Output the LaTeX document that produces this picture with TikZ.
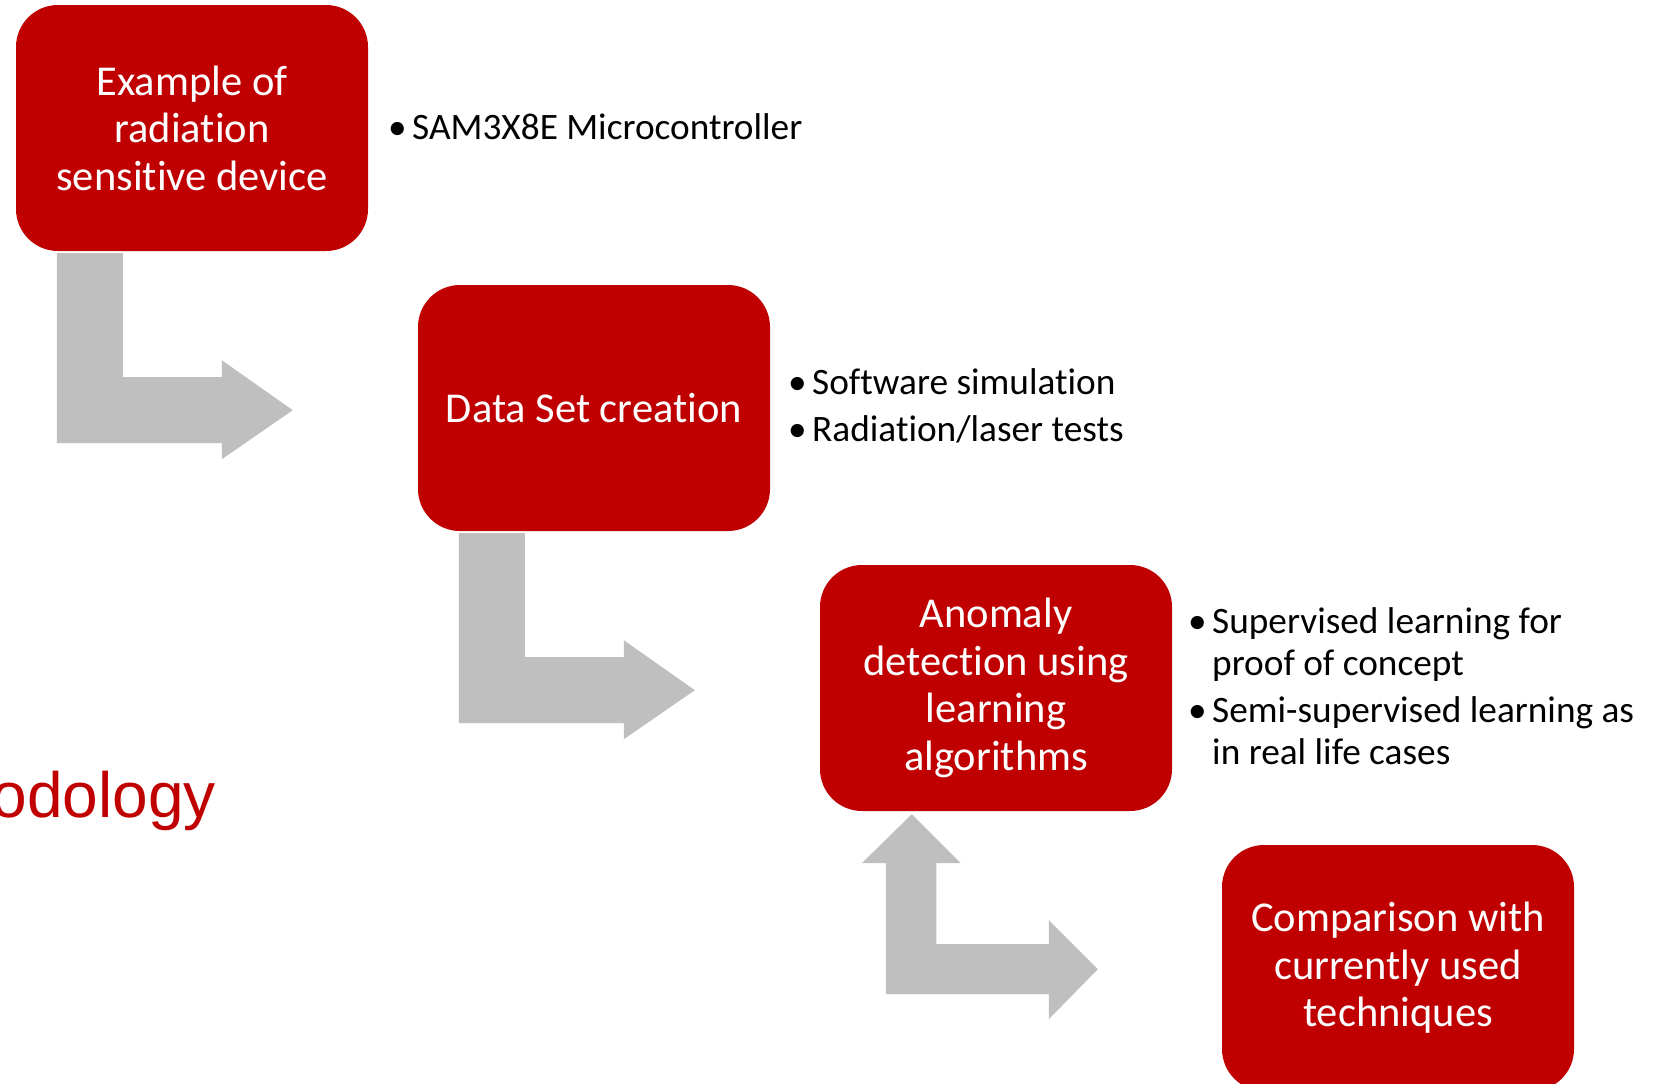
\documentclass[tikz,border=0pt]{standalone}
\usepackage{fontspec}
\setmainfont[Ligatures={NoCommon}]{Carlito}
\newfontfamily\arialfont{Liberation Sans}
\definecolor{boxred}{HTML}{C00000}
\definecolor{arrowgray}{HTML}{BFBFBF}
\newcommand\bulitem{\makebox[24pt][l]{•}}
\newcommand\bulindent{\hspace*{24pt}}
\begin{document}
\begin{tikzpicture}[x=1pt,y=-1pt,
  stagebox/.style={fill=boxred, draw=none, rounded corners=42pt, minimum width=352pt, minimum height=246pt, inner sep=0pt, text=white, align=center, font=\fontsize{42.5}{47.5}\selectfont},
  bulletlist/.style={anchor=west, align=left, inner sep=0pt, text=black, font=\fontsize{37.3}{42}\selectfont},
  graybody/.style={fill=arrowgray, draw=none},
  pics/elbowarrow/.style={code={
    \fill[graybody] (41,2) -- (107,2) -- (107,126) -- (206,126) -- (206,109) -- (277,159) -- (206,208) -- (206,192) -- (41,192) -- cycle;
  }}]
\useasboundingbox (0,0) rectangle (1657,1084);
\clip (0,0) rectangle (1657,1084);
\fill[white] (0,0) rectangle (1657,1084);

\node[stagebox] (b1) at (192,128) {Example of\\radiation\\sensitive device};
\node[stagebox] (b2) at (594,408) {Data Set creation};
\node[stagebox] (b3) at (996,688) {Anomaly\\detection using\\learning\\algorithms};
\node[stagebox] (b4) at (1398,968) {Comparison with\\currently used\\techniques};

\node[bulletlist] (l1) at (388,127) {\bulitem SAM3X8E Microcontroller};
\node[bulletlist] (l2) at (788,406) {\bulitem Software simulation\\[5pt]\bulitem Radiation/laser tests};
\node[bulletlist] (l3) at (1188,686) {\bulitem Supervised learning for\\\bulindent proof of concept\\[5pt]\bulitem Semi-supervised learning as\\\bulindent in real life cases};

\node[anchor=base east, inner sep=0pt, text=boxred, font=\arialfont\fontsize{64}{77}\selectfont] (title) at (216,817) {odology};

\pic[shift={(b1.south west)}] {elbowarrow};
\pic[shift={(b2.south west)}] {elbowarrow};
\begin{scope}[shift={(b3.south west)}]
  \fill[graybody] (66,183) -- (66,52) -- (42,52) -- (92,3) -- (141,52) -- (116.5,52) -- (116.5,133) -- (229,133) -- (229,109) -- (278,158) -- (229,208) -- (229,183) -- cycle;
\end{scope}
\end{tikzpicture}
\end{document}
